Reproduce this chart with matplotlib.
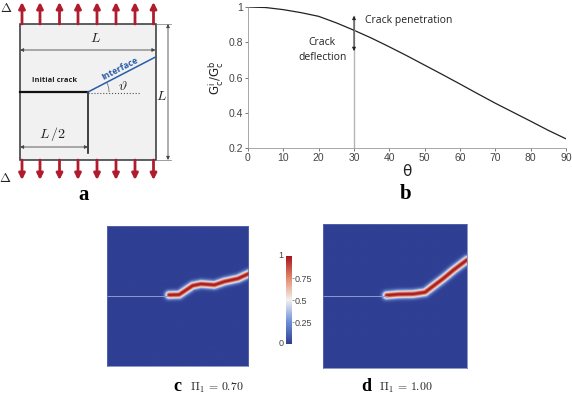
import numpy as np
import matplotlib
matplotlib.use("Agg")
import matplotlib.pyplot as plt
from matplotlib.colors import LinearSegmentedColormap
from matplotlib.patches import Arc

plt.rcParams['font.family'] = ['Liberation Sans', 'DejaVu Sans']
plt.rcParams['mathtext.fontset'] = 'cm'

# panel b curve
theta = [0, 5, 10, 15, 20, 25, 30, 35, 40, 45, 50, 55, 60, 65, 70, 75, 80, 85, 90]
ratio = [1.0, 0.997, 0.985, 0.968, 0.947, 0.91, 0.868, 0.823, 0.774, 0.723, 0.67, 0.617,
         0.563, 0.508, 0.454, 0.403, 0.352, 0.30, 0.252]
b_xticks = [0, 10, 20, 30, 40, 50, 60, 70, 80, 90]
b_yticks = [0.2, 0.4, 0.6, 0.8, 1]
b_yticklabels = ['0.2', '0.4', '0.6', '0.8', '1']

# panel a arrows, pixel positions
arrow_x_top = [22, 40, 59.5, 78, 97, 116, 135, 153.5]
arrow_x_bot = [22, 40, 59.5, 78, 97, 116, 135, 153.5]

# crack paths in panel fractions
crack_c_x = [0.437, 0.508, 0.603, 0.662, 0.757, 0.827, 0.922, 1.0]
crack_c_y = [0.504, 0.506, 0.570, 0.582, 0.575, 0.599, 0.620, 0.656]
crack_d_x = [0.442, 0.523, 0.628, 0.709, 0.767, 0.837, 0.907, 1.0]
crack_d_y = [0.505, 0.512, 0.514, 0.526, 0.570, 0.623, 0.681, 0.751]
bar_ticks = [0, 0.25, 0.5, 0.75, 1]
bar_labels = ['0', '0.25', '0.5', '0.75', '1']

W, H = 572, 395
red = '#b01c2e'
field = LinearSegmentedColormap.from_list(
    'field', ['#2f3f93', '#6f8fd8', '#f4f2f0', '#e58a6c', '#a5161f'])


def px_axes(x0, y0, x1, y1):
    return fig.add_axes([x0 / W, 1 - y1 / H, (x1 - x0) / W, (y1 - y0) / H])


def damage_map(px, py, n=200, width=0.026):
    # distance from each cell to the crack path, turned into a soft band
    gx, gy = np.meshgrid((np.arange(n) + 0.5) / n, (np.arange(n) + 0.5) / n)
    best = np.full(gx.shape, 9.0)
    for i in range(len(px) - 1):
        dx, dy = px[i + 1] - px[i], py[i + 1] - py[i]
        t = np.clip(((gx - px[i]) * dx + (gy - py[i]) * dy) / (dx * dx + dy * dy), 0, 1)
        best = np.minimum(best, np.hypot(gx - px[i] - t * dx, gy - py[i] - t * dy))
    return np.exp(-(best / width) ** 2)


fig = plt.figure(figsize=(W / 100, H / 100), dpi=100)

# whole figure in pixels, for panel a and the captions
ax = fig.add_axes([0, 0, 1, 1])
ax.set_xlim(0, W)
ax.set_ylim(H, 0)
ax.axis('off')

ax.fill([20, 155.5, 155.5, 20], [24, 24, 160, 160], fc='#f1f1f1', ec='#333333', lw=1.1)
ax.plot([20, 88], [92, 92], c='#111111', lw=1.6)
ax.plot([88, 88], [92, 153], c='#222222', lw=1.2)
ax.plot([88, 155.5], [92, 57], c='#2a5ca8', lw=1.1)
ax.plot([88, 141], [93, 93], c='#555555', lw=0.8, ls=':')
ax.add_patch(Arc((88, 92), 42, 42, theta1=-27, theta2=0, color='#777777', lw=0.6))
for x in arrow_x_top:
    ax.annotate('', xy=(x, 2), xytext=(x, 24),
                arrowprops=dict(arrowstyle='-|>', color=red, lw=2, mutation_scale=9, shrinkA=0, shrinkB=0))
for x in arrow_x_bot:
    ax.annotate('', xy=(x, 180), xytext=(x, 160),
                arrowprops=dict(arrowstyle='-|>', color=red, lw=2, mutation_scale=9, shrinkA=0, shrinkB=0))

dim = dict(arrowstyle='<|-|>', color='#444444', lw=0.6, mutation_scale=5, shrinkA=0, shrinkB=0)
ax.annotate('', xy=(20, 50), xytext=(155.5, 50), arrowprops=dim)
ax.annotate('', xy=(20, 147), xytext=(88, 147), arrowprops=dim)
ax.annotate('', xy=(168, 24), xytext=(168, 160), arrowprops=dim)
ax.plot([155.5, 171], [24, 24], c='#777777', lw=0.5)
ax.plot([155.5, 171], [160, 160], c='#777777', lw=0.5)

ax.text(6, 8, r'$\Delta$', fontsize=9.5, ha='center', va='center', color='#222222')
ax.text(5, 178, r'$\Delta$', fontsize=9.5, ha='center', va='center', color='#222222')
ax.text(95, 38, r'$L$', fontsize=10, ha='center', va='center', color='#222222')
ax.text(162, 96, r'$L$', fontsize=10, ha='center', va='center', color='#222222')
ax.text(52.5, 134, r'$L\,/2$', fontsize=10, ha='center', va='center', color='#222222')
ax.text(123, 86, r'$\vartheta$', fontsize=10, ha='center', va='center', color='#222222')
ax.text(54.5, 80, 'Initial crack', fontsize=5.4, fontweight='bold', family=['Open Sans', 'DejaVu Sans'],
        ha='center', va='center', color='#222222')
ax.text(120, 69, 'Interface', fontsize=6.3, fontweight='bold', family=['Open Sans', 'DejaVu Sans'],
        rotation=27, ha='center', va='center', color='#2a5ca8')

ax.text(84, 200, 'a', fontsize=15, fontweight='bold', family='Liberation Serif', ha='center', va='baseline')
ax.text(406, 199, 'b', fontsize=15, fontweight='bold', family='Liberation Serif', ha='center', va='baseline')
ax.text(177, 391, 'c', fontsize=13, fontweight='bold', family='Liberation Serif', ha='center', va='baseline')
ax.text(366, 391, 'd', fontsize=13, fontweight='bold', family='Liberation Serif', ha='center', va='baseline')
ax.text(217, 388, r'$\Pi_1\,=\,0.70$', fontsize=8.5, ha='center', va='center', color='#222222')
ax.text(406, 388, r'$\Pi_1\,=\,1.00$', fontsize=8.5, ha='center', va='center', color='#222222')

# panel b
axb = px_axes(248, 7, 566, 148)
axb.plot(theta, ratio, c='#222222', lw=0.9)
axb.plot([30, 30], [0.2, 0.95], c='#b5b5b5', lw=1.0)
axb.annotate('', xy=(30, 0.95), xytext=(30, 0.75),
             arrowprops=dict(arrowstyle='<|-|>', color='#222222', lw=0.7, mutation_scale=5, shrinkA=0, shrinkB=0))
axb.set_xlim(0, 90)
axb.set_ylim(0.2, 1)
axb.set_xticks(b_xticks)
axb.set_yticks(b_yticks)
axb.set_yticklabels(b_yticklabels)
axb.tick_params(labelsize=7.5, colors='#444444', length=2, width=0.5, pad=1.5)
for s in ['top', 'right']:
    axb.spines[s].set_visible(False)
for s in ['left', 'bottom']:
    axb.spines[s].set_color('#999999')
    axb.spines[s].set_linewidth(0.6)
axb.set_xlabel(r'$\mathrm{\theta}$', fontsize=11, labelpad=0, color='#222222', math_fontfamily='dejavusans')
axb.set_ylabel(r'$\mathrm{G_c^i/G_c^b}$', fontsize=8.5, labelpad=2, color='#222222', math_fontfamily='dejavusans')
axb.text(33, 0.925, 'Crack penetration', fontsize=7.5, family=['Open Sans', 'DejaVu Sans'], va='center', color='#222222')
axb.text(21, 0.80, 'Crack', fontsize=7.5, family=['Open Sans', 'DejaVu Sans'], ha='center', va='center', color='#222222')
axb.text(21, 0.716, 'deflection', fontsize=7.5, family=['Open Sans', 'DejaVu Sans'], ha='center', va='center', color='#222222')

# panels c and d
for box, cx, cy, start_y in [((106.5, 225.7, 247.7, 366), crack_c_x, crack_c_y, 0.497),
                             ((323.3, 224.3, 466.7, 367.7), crack_d_x, crack_d_y, 0.498)]:
    a = px_axes(*box)
    a.imshow(damage_map(cx, cy), cmap=field, vmin=0, vmax=1, origin='lower', extent=[0, 1, 0, 1],
             aspect='auto', interpolation='bilinear')
    a.plot([0, cx[0]], [start_y, start_y], c='#8d9ad0', lw=0.7)
    a.set_xlim(0, 1)
    a.set_ylim(0, 1)
    a.set_xticks([])
    a.set_yticks([])
    for s in a.spines.values():
        s.set_color('#5f6fb5')
        s.set_linewidth(0.5)

# shared colour bar
axc = px_axes(286, 256, 292, 344)
axc.imshow(np.linspace(1, 0, 128)[:, None], cmap=field, aspect='auto', extent=[0, 1, 0, 1])
axc.set_xticks([])
axc.yaxis.tick_right()
axc.set_yticks(bar_ticks[1:-1])
axc.set_yticklabels(bar_labels[1:-1])
axc.tick_params(labelsize=6.5, colors='#444444', length=1.5, width=0.4, pad=0.5)
for s in axc.spines.values():
    s.set_visible(False)
axc.text(-0.4, 1, bar_labels[-1], fontsize=6.5, color='#444444', ha='right', va='center', transform=axc.transAxes)
axc.text(-0.4, 0, bar_labels[0], fontsize=6.5, color='#444444', ha='right', va='center', transform=axc.transAxes)

fig.savefig('out.png', dpi=100)
